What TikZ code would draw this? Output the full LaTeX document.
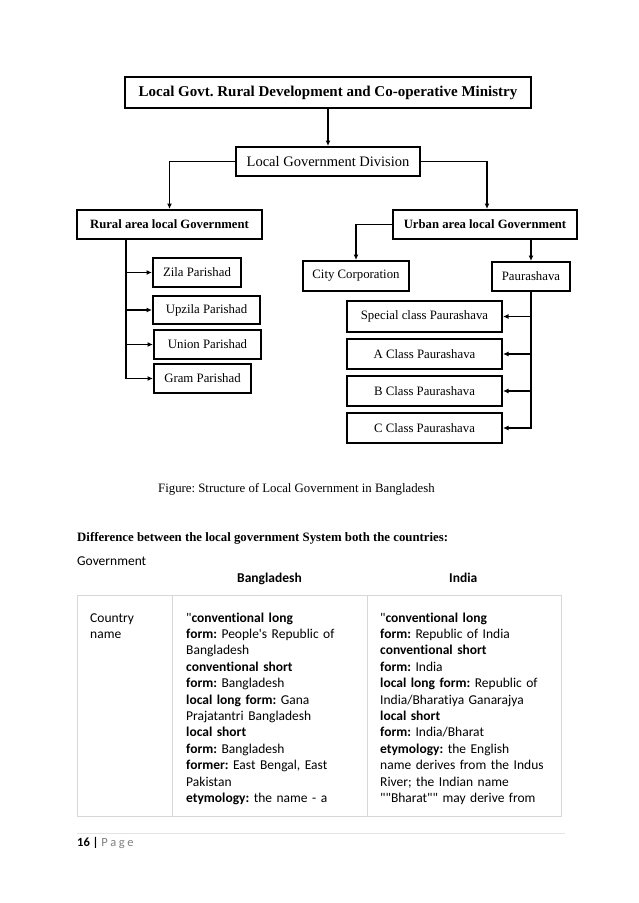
\documentclass[tikz,border=0pt]{standalone}
\usepackage{fontspec}
\setmainfont{Liberation Serif}
\newfontfamily\calib[Ligatures={NoCommon}]{Carlito}
\usetikzlibrary{arrows.meta}
\definecolor{tgray}{RGB}{215,215,215}
\frenchspacing
\begin{document}
\begin{tikzpicture}[x=1pt,y=-1pt,
  box/.style={draw=black,line width=2pt,inner sep=0pt,minimum height=29pt,font=\fontsize{12.8}{14}\selectfont},
  conn/.style={line width=1.7pt},
  arr/.style={conn,-{Latex[length=5.5pt,width=5pt]}},
  tline/.style={draw=tgray,line width=0.8pt},
  tcell/.style={anchor=base west,inner sep=0pt,align=left,text width=185pt,font=\calib\fontsize{13.5}{16.4}\selectfont},
  ptext/.style={anchor=base west,inner sep=0pt}]
\useasboundingbox[fill=white] (0,0) rectangle (638,903);

% diagram boxes
\node[box,font=\bfseries\fontsize{15}{17}\selectfont,minimum width=406pt,minimum height=31pt] (top) at (328,92.5) {Local Govt. Rural Development and Co-operative Ministry};
\node[box,font=\fontsize{14.5}{16}\selectfont,minimum width=184pt] (lgd) at (328,161.5) {Local Government Division};
\node[box,font=\bfseries\fontsize{12.7}{14}\selectfont,minimum width=185pt] (rural) at (169.5,224.5) {Rural area local Government};
\node[box,font=\bfseries\fontsize{12.7}{14}\selectfont,minimum width=184pt] (urban) at (485,224.5) {Urban area local Government};

\node[box,minimum width=88pt] (zila) at (197,272.5) {Zila Parishad};
\node[box,minimum width=107pt,minimum height=28pt] (upzila) at (206.5,310) {Upzila Parishad};
\node[box,minimum width=107pt] (union) at (207.5,344.5) {Union Parishad};
\node[box,minimum width=97pt] (gram) at (202.5,378.5) {Gram Parishad};

\node[box,minimum width=106pt,minimum height=30pt] (city) at (356,276) {City Corporation};
\node[box,minimum width=78pt] (paura) at (531,276.5) {Paurashava};
\node[box,minimum width=155pt,minimum height=31pt] (special) at (424.5,316.5) {Special class Paurashava};
\node[box,minimum width=155pt,minimum height=30pt] (acls) at (424.5,354) {A Class Paurashava};
\node[box,minimum width=155pt,minimum height=30pt] (bcls) at (424.5,391) {B Class Paurashava};
\node[box,minimum width=155pt,minimum height=30pt] (ccls) at (424.5,428) {C Class Paurashava};

% connectors
\draw[arr] (top) -- (lgd);
\draw[arr] (lgd.west) -| (rural.north);
\draw[arr] (lgd.east) -| ([xshift=2pt]urban.north);
\draw[arr] (urban.west) -| (city.north);
\draw[arr] (urban.south -| paura.north) -- (paura.north);

\coordinate (rt) at (126,239);
\draw[arr] (rt) |- (gram.west);
\draw[arr] (rt |- zila.west) -- (zila.west);
\draw[arr] (rt |- upzila.west) -- (upzila.west);
\draw[arr] (rt |- union.west) -- (union.west);

\draw[arr] (paura.south) |- (ccls.east);
\draw[arr] (paura.south |- special.east) -- (special.east);
\draw[arr] (paura.south |- acls.east) -- (acls.east);
\draw[arr] (paura.south |- bcls.east) -- (bcls.east);

% texts
\node[ptext,font=\fontsize{12.8}{14}\selectfont] (cap) at (158,492) {Figure: Structure of Local Government in Bangladesh};
\node[ptext,font=\bfseries\fontsize{12.8}{14}\selectfont] (diff) at (77,541) {Difference between the local government System both the countries:};
\node[ptext,font=\calib\fontsize{13.5}{16}\selectfont] (gov) at (77,565) {Government};
\node[ptext,font=\calib\bfseries\fontsize{13.5}{16}\selectfont] (bd) at (237,582) {Bangladesh};
\node[ptext,font=\calib\bfseries\fontsize{13.5}{16}\selectfont] (ind) at (449,582) {India};

% table
\coordinate (tl) at (77,595);
\coordinate (br) at (561,816);
\draw[tline] (tl) rectangle (br);
\draw[tline] (172,595) -- (172,816);
\draw[tline] (367,595) -- (367,816);

\node[tcell,text width=70pt] (c1) at (90,622) {Country\\name};
\node[tcell] (c2) at (186,622) {\symbol{34}\textbf{conventional long}\\
\textbf{form:} People\symbol{39}s Republic of\\
Bangladesh\\
\textbf{conventional short}\\
\textbf{form:} Bangladesh\\
\textbf{local long form:} Gana\\
Prajatantri Bangladesh\\
\textbf{local short}\\
\textbf{form:} Bangladesh\\
\textbf{former:} East Bengal, East\\
Pakistan\\
\textbf{etymology:} the name - a};
\node[tcell] (c3) at (380,622) {\symbol{34}\textbf{conventional long}\\
\textbf{form:} Republic of India\\
\textbf{conventional short}\\
\textbf{form:} India\\
\textbf{local long form:} Republic of\\
India/Bharatiya Ganarajya\\
\textbf{local short}\\
\textbf{form:} India/Bharat\\
\textbf{etymology:} the English\\
name derives from the Indus\\
River; the Indian name\\
\symbol{34}\symbol{34}Bharat\symbol{34}\symbol{34} may derive from};

% footer
\draw[tline,draw=tgray!70] (77,833) -- (565,833);
\node[ptext,font=\calib\fontsize{12.5}{14}\selectfont] (pg) at (77,846) {\textbf{16 |} \textcolor{gray}{P\hspace{2.5pt}a\hspace{2.5pt}g\hspace{2.5pt}e}};
\end{tikzpicture}
\end{document}
